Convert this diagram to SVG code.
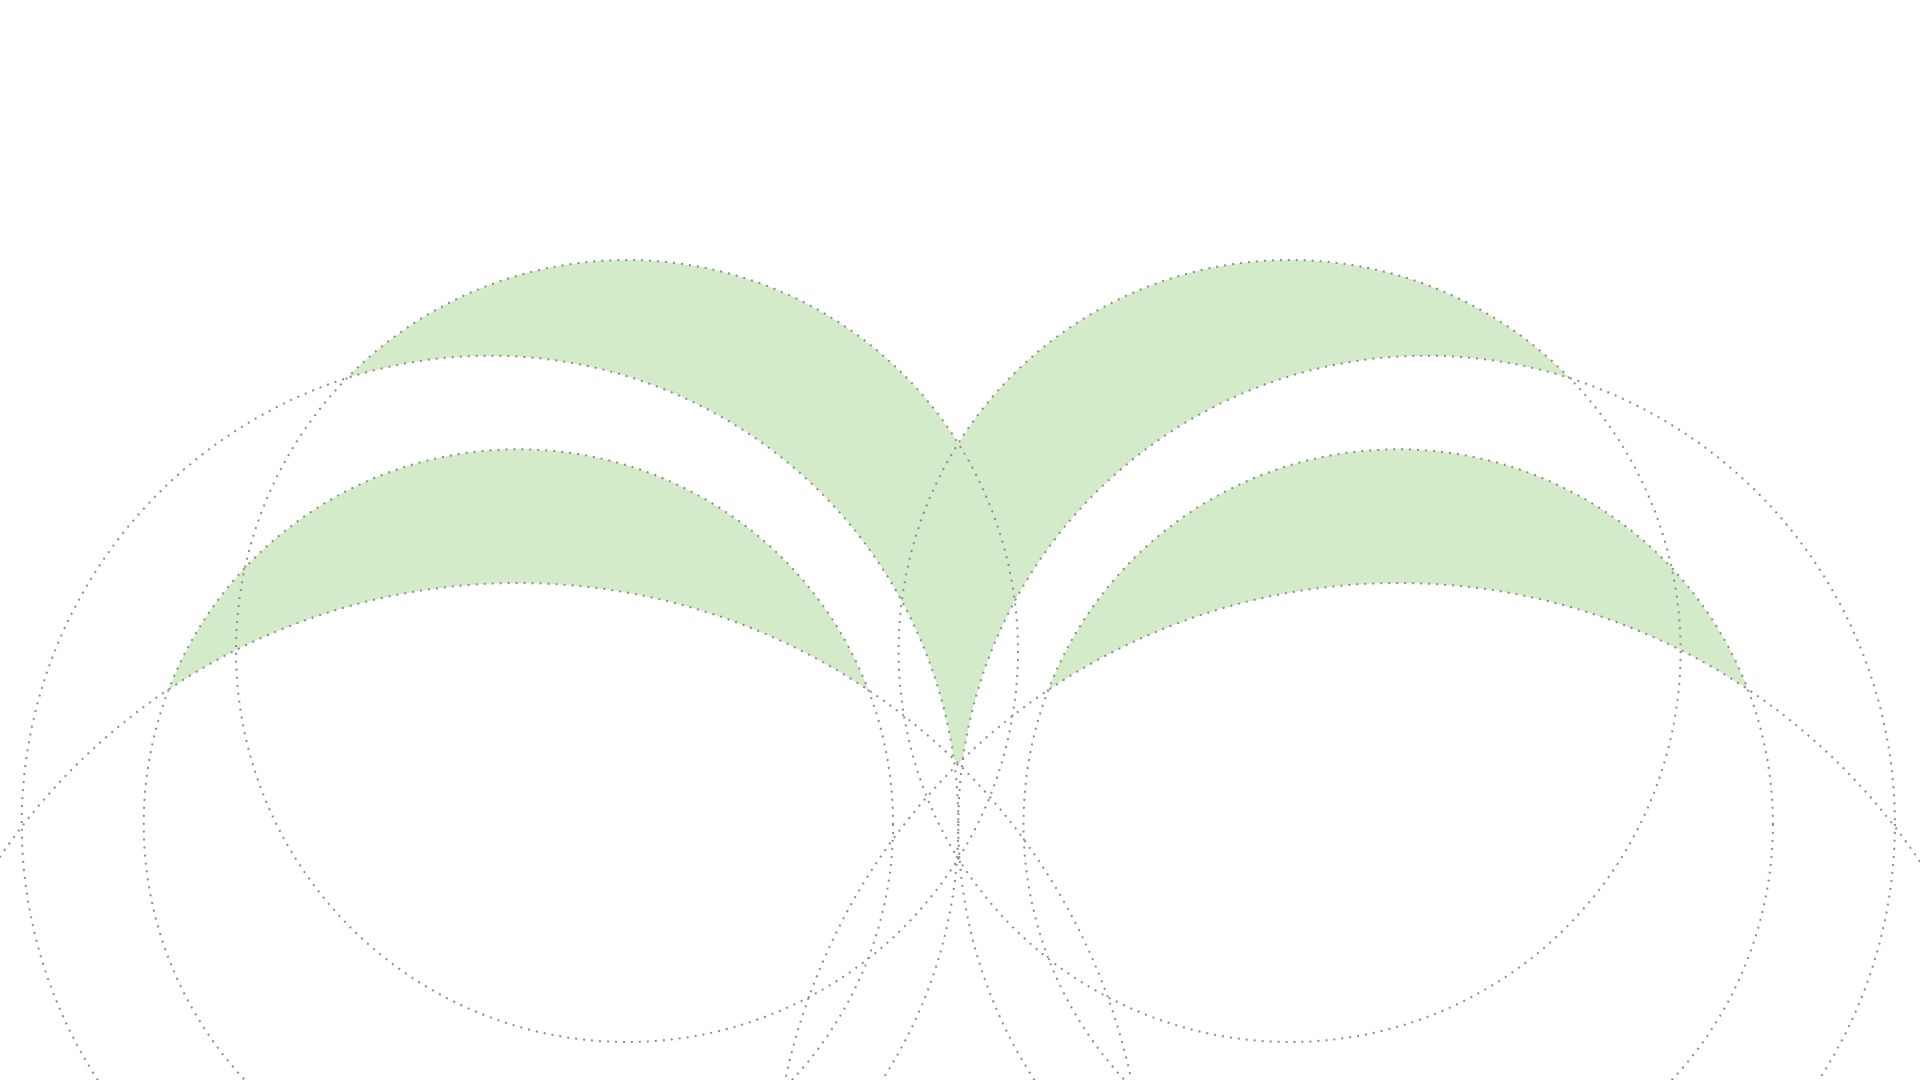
<svg xmlns="http://www.w3.org/2000/svg" width="1920" height="1080" viewBox="0 0 1920 1080">
  <style>
    .ring{fill:none;stroke:#8c8c8c;stroke-width:2;stroke-dasharray:2 6}
    .petal{fill:#d3ebc9}
  </style>
  <defs>
    <mask id="mBig" maskUnits="userSpaceOnUse" x="0" y="0" width="1920" height="1080">
      <rect x="0" y="0" width="1920" height="1080" fill="#000"/>
      <circle cx="627" cy="651" r="391" fill="#fff"/>
      <circle cx="1289.6" cy="651" r="391" fill="#fff"/>
      <circle cx="490" cy="824" r="468.3" fill="#000"/>
      <circle cx="1426.6" cy="824" r="468.3" fill="#000"/>
      <circle cx="518" cy="1210" r="627" fill="#000"/>
      <circle cx="1398.6" cy="1210" r="627" fill="#000"/>
    </mask>
    <mask id="mSmall" maskUnits="userSpaceOnUse" x="0" y="0" width="1920" height="1080">
      <rect x="0" y="0" width="1920" height="1080" fill="#000"/>
      <circle cx="518.4" cy="824" r="374.7" fill="#fff"/>
      <circle cx="1398.2" cy="824" r="374.7" fill="#fff"/>
      <circle cx="518" cy="1210" r="627" fill="#000"/>
      <circle cx="1398.6" cy="1210" r="627" fill="#000"/>
    </mask>
  </defs>
  <rect x="0" y="0" width="1920" height="1080" fill="#ffffff"/>
  <g id="fills">
    <rect id="big-crescents" class="petal" x="0" y="0" width="1920" height="1080" mask="url(#mBig)"/>
    <rect id="small-crescents" class="petal" x="0" y="0" width="1920" height="1080" mask="url(#mSmall)"/>
  </g>
  <g id="circles">
    <g id="circle-a"><circle class="ring" cx="627" cy="651" r="391"/></g>
    <g id="circle-b"><circle class="ring" cx="1289.6" cy="651" r="391"/></g>
    <g id="circle-c"><circle class="ring" cx="490" cy="824" r="468.3"/></g>
    <g id="circle-d"><circle class="ring" cx="1426.6" cy="824" r="468.3"/></g>
    <g id="circle-e"><circle class="ring" cx="518.4" cy="824" r="374.7"/></g>
    <g id="circle-f"><circle class="ring" cx="1398.2" cy="824" r="374.7"/></g>
    <g id="circle-g"><circle class="ring" cx="518" cy="1210" r="627"/></g>
    <g id="circle-h"><circle class="ring" cx="1398.6" cy="1210" r="627"/></g>
  </g>
</svg>
